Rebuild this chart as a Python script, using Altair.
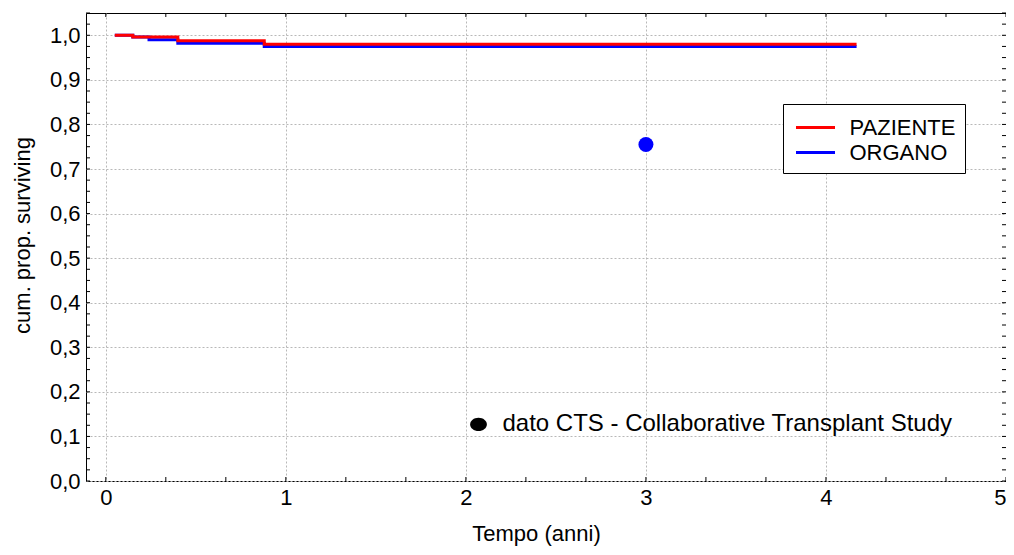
import altair as alt
import pandas as pd

# ---- data ----
paz_time = [0.05, 0.15, 0.40, 0.88, 4.17]
paz_surv = [1.000, 0.996, 0.988, 0.980, 0.980]
org_time = [0.05, 0.15, 0.24, 0.40, 0.88, 4.17]
org_surv = [1.000, 0.996, 0.990, 0.982, 0.975, 0.975]
series_names = ["PAZIENTE", "ORGANO"]
series_colors = ["#ff0000", "#0000ff"]

cts_time = [3.0]
cts_surv = [0.755]
note_time = [2.07]
note_surv = [0.127]
note_text = ["dato CTS - Collaborative Transplant Study"]

x_ticks = [0, 1, 2, 3, 4, 5]
y_ticks = [0.0, 0.1, 0.2, 0.3, 0.4, 0.5, 0.6, 0.7, 0.8, 0.9, 1.0]
x_minor = [i / 3 for i in range(16)]
y_minor = [i * 0.025 for i in range(43)]

FONT = "Liberation Sans"
FS = 22
W, H = 920, 468
TL = 4  # inward tick length

paz_df = pd.DataFrame({"t": paz_time, "s": paz_surv, "serie": series_names[0]})
org_df = pd.DataFrame({"t": org_time, "s": org_surv, "serie": series_names[1]})
cts_df = pd.DataFrame({"t": cts_time, "s": cts_surv})
note_df = pd.DataFrame({"t": note_time, "s": note_surv, "label": note_text})
xminor_df = pd.DataFrame({"t": x_minor})
yminor_df = pd.DataFrame({"s": y_minor})

xscale = alt.Scale(domain=[-0.11, 5], nice=False, zero=False)
yscale = alt.Scale(domain=[0, 1.05], nice=False, zero=False)

xaxis = alt.Axis(values=x_ticks, grid=True, gridColor="#b8b8b8", gridDash=[2, 2],
                 tickSize=0, domain=False, labelFontSize=FS, labelPadding=6,
                 labelFont=FONT, titleFont=FONT, titleFontSize=FS,
                 titleFontWeight="normal", titlePadding=15, titleColor="black",
                 titleX=450,
                 labelColor="black", format="d", labelFlush=True)
yaxis = alt.Axis(values=y_ticks, grid=True, gridColor="#b8b8b8", gridDash=[2, 2],
                 tickSize=0, domain=False, labelFontSize=FS, labelPadding=6,
                 labelFont=FONT, titleFont=FONT, titleFontSize=22,
                 titleFontWeight="normal", titlePadding=15, titleColor="black",
                 titleY=222,
                 labelColor="black", labelFlush=False,
                 labelExpr="replace(format(datum.value, '.1f'), '.', ',')")

X = alt.X("t:Q", scale=xscale, axis=xaxis, title="Tempo (anni)")
Y = alt.Y("s:Q", scale=yscale, axis=yaxis, title="cum. prop. surviving")

legend_line = "M-1.56,0H1.56"
color = alt.Color("serie:N",
                  scale=alt.Scale(domain=series_names, range=series_colors),
                  legend=alt.Legend(title=None, orient="none", legendX=697, legendY=91,
                                    strokeColor="black", fillColor="white", padding=9.5,
                                    symbolType=legend_line, symbolStrokeWidth=3,
                                    symbolSize=625, symbolOffset=9,
                                    labelFontSize=FS, labelFont=FONT,
                                    labelColor="black", labelOffset=20, rowPadding=0,
                                    cornerRadius=0))

org_line = alt.Chart(org_df).mark_line(interpolate="step-after", strokeWidth=3).encode(
    x=X, y=Y, color=color)
paz_line = alt.Chart(paz_df).mark_line(interpolate="step-after", strokeWidth=3).encode(
    x=X, y=Y, color=color)

cts_point = alt.Chart(cts_df).mark_point(filled=True, shape="circle", size=225,
                                         color="#0000ff", opacity=1).encode(x=X, y=Y)

ellipse = "M-1,0A1,0.78,0,1,0,1,0A1,0.78,0,1,0,-1,0Z"
note_mark = alt.Chart(note_df).mark_point(filled=True, shape=ellipse, size=280,
                                          color="black", opacity=1).encode(x=X, y=Y)
note_label = alt.Chart(note_df).mark_text(align="left", baseline="middle", dx=24,
                                          fontSize=24, font=FONT, color="black").encode(
    x=X, y=Y, text="label:N")

tick_bottom = alt.Chart(xminor_df).mark_rule(color="black", strokeWidth=1).encode(
    x=X, y=alt.value(H), y2=alt.value(H - TL))
tick_top = alt.Chart(xminor_df).mark_rule(color="black", strokeWidth=1).encode(
    x=X, y=alt.value(0), y2=alt.value(TL))
tick_left = alt.Chart(yminor_df).mark_rule(color="black", strokeWidth=1).encode(
    y=Y, x=alt.value(0), x2=alt.value(TL))
tick_right = alt.Chart(yminor_df).mark_rule(color="black", strokeWidth=1).encode(
    y=Y, x=alt.value(W), x2=alt.value(W - TL))

chart = alt.layer(
    org_line, paz_line, cts_point, note_mark, note_label,
    tick_bottom, tick_top, tick_left, tick_right
).properties(
    width=W, height=H,
    autosize=alt.AutoSizeParams(type="none"),
    padding={"left": 78, "top": 5, "right": 0, "bottom": 66},
    background="white",
).configure_view(stroke="black", strokeWidth=1)

chart.save("out.html", embed_options={"renderer": "svg", "actions": False})
